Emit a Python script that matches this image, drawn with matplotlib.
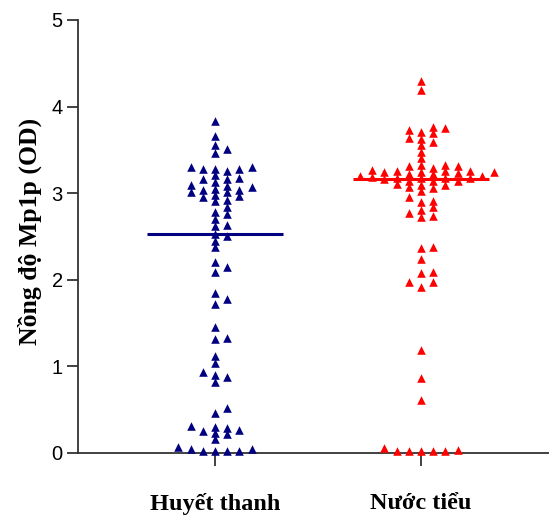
"""
Biểu đồ phân tán nồng độ Mp1p (OD) theo loại mẫu.
"""
import matplotlib
matplotlib.use('Agg')
import matplotlib.pyplot as plt
import numpy as np

# Dữ liệu
nhom = ['Huyết thanh', 'Nước tiểu']
mau_sac = ['#000080', '#ff0000']

huyet_thanh = [3.83, 3.66, 3.56, 3.51, 3.46, 3.30, 3.30, 3.28, 3.28, 3.26, 3.28,
               3.21, 3.17, 3.16, 3.16, 3.13, 3.08, 3.05, 3.04, 3.07, 3.01,
               3.10, 3.04, 2.97, 3.01, 2.92, 2.98, 2.95, 2.84, 2.91,
               2.76, 2.78, 2.70, 2.63, 2.62, 2.53, 2.50, 2.45, 2.38,
               2.20, 2.15, 2.09, 1.85, 1.78, 1.72, 1.46, 1.33, 1.32,
               1.12, 1.04, 0.88, 0.90, 0.94, 0.82, 0.46, 0.52,
               0.26, 0.30, 0.22, 0.25, 0.31, 0.23, 0.29, 0.16,
               0.07, 0.05, 0.05, 0.02, 0.02, 0.02, 0.02]

nuoc_tieu = [4.29, 4.19, 3.76, 3.73, 3.69, 3.71, 3.63, 3.75, 3.64, 3.56, 3.48, 3.59, 3.41,
             3.29, 3.33, 3.33, 3.24, 3.25, 3.31, 3.22, 3.31, 3.27, 3.26, 3.26,
             3.19, 3.23, 3.26, 3.20, 3.18, 3.24, 3.18, 3.22, 3.20, 3.18, 3.18,
             3.16, 3.11, 3.14, 3.14, 3.10, 3.14, 3.10,
             3.06, 3.03, 3.07,
             2.95, 2.84, 2.74, 2.91, 2.77, 2.90, 2.80, 2.72,
             2.37, 2.38, 2.24, 2.08, 2.09, 1.97, 1.98, 1.92,
             1.19, 0.87, 0.61, 0.06, 0.02, 0.02, 0.03, 0.02, 0.02, 0.02]

y_ticks = [0, 1, 2, 3, 4, 5]


def tinh_cot_swarm(values, gap):
    """Xếp các điểm thành cột theo kiểu beeswarm đơn giản."""
    values = np.asarray(values)
    cot_da_dat = {}
    cot = np.zeros(len(values), dtype=int)
    for i in np.argsort(values):
        y = values[i]
        step = 0
        found = None
        while found is None:
            candidates = [0] if step == 0 else [step, -step]
            for c in candidates:
                if all(abs(y - yy) >= gap for yy in cot_da_dat.get(c, [])):
                    found = c
                    break
            step += 1
        cot_da_dat.setdefault(found, []).append(y)
        cot[i] = found
    return cot


fig = plt.figure(figsize=(5.49, 5.18), dpi=100)
ax = fig.add_axes([0.142, 0.1255, 0.858, 0.836])

dx = 0.0592
for i, (du_lieu, mau) in enumerate(zip([huyet_thanh, nuoc_tieu], mau_sac)):
    pos = i + 1
    cot = tinh_cot_swarm(du_lieu, gap=0.065)
    ax.scatter(pos + cot * dx, du_lieu, marker='^', s=38, color=mau,
               linewidths=0, clip_on=False, zorder=3)
    # Đường trung vị
    trung_vi = np.median(du_lieu)
    ax.plot([pos - 0.33, pos + 0.33], [trung_vi, trung_vi], color=mau,
            linewidth=2.2, zorder=4, solid_capstyle='butt')

ax.set_xlim(0.335, 2.621)
ax.set_ylim(0, 5)
ax.set_yticks(y_ticks)
ax.set_xticks([1, 2])
ax.set_xticklabels(nhom, fontfamily='Liberation Serif', fontweight='bold',
                   fontsize=17.5)
for lbl in ax.get_yticklabels():
    lbl.set_fontfamily('Liberation Sans')
    lbl.set_fontsize(14.5)

ax.spines['top'].set_visible(False)
ax.spines['right'].set_visible(False)
for s in ['left', 'bottom']:
    ax.spines[s].set_color('#333333')
    ax.spines[s].set_linewidth(1.3)
ax.tick_params(axis='y', length=8, width=1.3, color='#333333', pad=3)
ax.tick_params(axis='x', length=9, width=1.3, color='#333333', pad=20)

ax.set_ylabel('Nồng độ Mp1p (OD)', fontfamily='Liberation Serif',
              fontweight='bold', fontsize=18.5)
ax.yaxis.set_label_coords(-0.076, 0.512)

plt.savefig('out.png', dpi=100)
plt.close()
